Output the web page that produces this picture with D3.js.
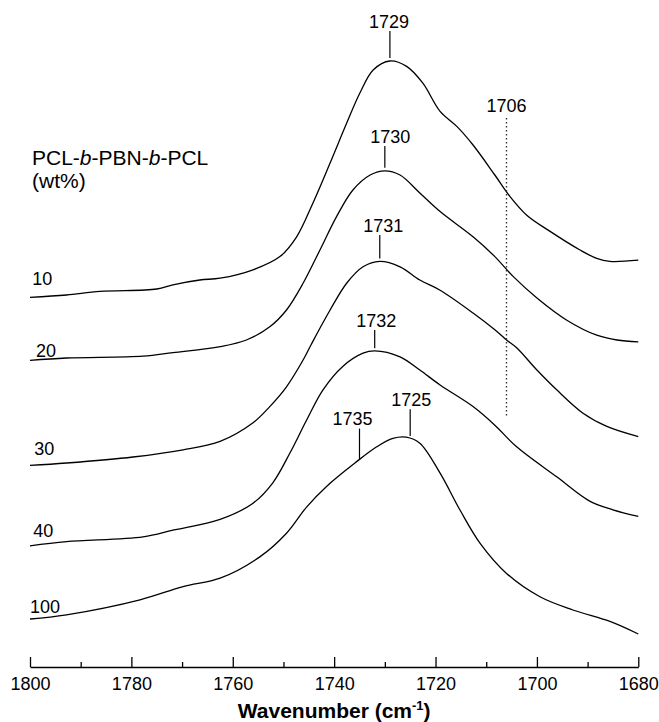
<!DOCTYPE html>
<html><head><meta charset="utf-8">
<script src="https://cdn.jsdelivr.net/npm/d3@7"></script>
<style>
html,body{margin:0;padding:0;background:#fff;}
svg{display:block;font-family:"Liberation Sans",Arial,Helvetica,sans-serif;}
</style></head><body>
<svg id="chart" width="659" height="722"></svg>
<script>
// Carbonyl stretching region of the FTIR spectra, stacked by blend composition (wt%)
const compositions = ["10", "20", "30", "40", "100"];

// [wavenumber (cm-1), absorbance incl. stacking offset (a.u.)]
const s10 = [[1800,6.16],[1792.8,6.20],[1786.2,6.26],[1775,6.30],[1771.8,6.37],[1766.5,6.45],[1762.5,6.48],
  [1756,6.62],[1750.7,6.84],[1747.4,7.17],[1744.2,7.73],[1740.8,8.40],[1737.5,9.07],[1734.9,9.57],
  [1732.3,9.95],[1729,10.10],[1725.7,10.01],[1722.5,9.73],[1719.1,9.26],[1715.8,9.01],[1712.6,8.70],
  [1708.3,8.20],[1705.3,7.84],[1702,7.53],[1697.4,7.26],[1691.5,6.95],[1688.2,6.81],[1685.6,6.76],[1680,6.78]];
const s20 = [[1800,5.11],[1792.8,5.15],[1777.7,5.18],[1771.8,5.24],[1762.5,5.34],[1757.3,5.45],[1752.7,5.67],
  [1749.4,5.95],[1746.1,6.40],[1742.8,6.95],[1739.5,7.51],[1736.3,7.95],[1732.9,8.20],[1730,8.27],
  [1727,8.20],[1723.1,7.90],[1719.1,7.59],[1712.6,7.17],[1708.3,6.84],[1704.7,6.51],[1700,6.15],
  [1694.1,5.78],[1688.2,5.53],[1684.2,5.45],[1680,5.42]];
const s30 = [[1800,3.36],[1792.8,3.40],[1779.7,3.50],[1769.8,3.62],[1762.5,3.76],[1756,4.07],[1752.7,4.34],
  [1749.4,4.67],[1746.1,5.12],[1744.5,5.38],[1740.8,5.95],[1737.5,6.40],[1734.3,6.67],[1731,6.76],
  [1727,6.67],[1723.1,6.45],[1719.1,6.28],[1712.6,5.90],[1708.3,5.62],[1706,5.45],[1704,5.32],
  [1700,4.95],[1696.1,4.62],[1690.9,4.23],[1686.2,4.01],[1680,3.84]];
const s40 = [[1800,2.02],[1792.8,2.09],[1777.7,2.17],[1771.8,2.28],[1762.5,2.46],[1756,2.73],[1752.1,3.07],
  [1748.7,3.57],[1745.4,4.12],[1742.2,4.62],[1738.3,5.01],[1734.3,5.23],[1732,5.27],[1727,5.17],
  [1723.1,4.95],[1719.1,4.70],[1712.6,4.34],[1708.3,4.03],[1704,3.67],[1696.1,3.17],[1689.5,2.76],
  [1685,2.62],[1680,2.51]];
const s100 = [[1800,0.80],[1792.8,0.87],[1778.3,1.12],[1769.8,1.34],[1762.5,1.48],[1754.6,1.84],[1749.4,2.23],
  [1745.4,2.67],[1741.5,3.01],[1735.9,3.40],[1731.6,3.67],[1728.4,3.81],[1725.8,3.83],[1723.1,3.73],
  [1719.1,3.23],[1715.2,2.62],[1711.2,2.06],[1706,1.56],[1699.4,1.17],[1692.9,0.95],[1685.6,0.76],[1680,0.55]];
const spectra = [s10, s20, s30, s40, s100];

const majorTicks = [1800, 1780, 1760, 1740, 1720, 1700, 1680];
const minorTicks = [1790, 1770, 1750, 1730, 1710, 1690];

// Band positions marked on the spectra
const peakWn = [1729, 1730, 1731, 1732, 1725, 1735];
const peakSeries = [0, 1, 2, 3, 4, 4];
const refWn = 1706;

// Layout of the marker stems and labels (px)
const stemGap = [3, 3, 3, 2.5, 3, 0];
const stemLen = [27, 21.7, 23.3, 18.3, 26.7, 31];
const peakLabelDx = [-1, 5.5, 3.5, 1.6, 1, -7];
const seriesLabelDx = [2.3, 6, 4.3, 3.3, 0];
const seriesLabelLift = [12.7, 3.4, 10.7, 9, 6];

const svg = d3.select("#chart");
const x = d3.scaleLinear().domain([1800, 1680]).range([30, 638.3]);
const y = d3.scaleLinear().domain([0, 10]).range([667, 67]);

function valueAt(series, wn) {
  for (let i = 0; i < series.length - 1; i++) {
    const [w0, a0] = series[i], [w1, a1] = series[i + 1];
    if (wn <= w0 && wn >= w1) {
      const t = (w0 - wn) / (w0 - w1);
      return a0 + t * (a1 - a0);
    }
  }
  return series[series.length - 1][1];
}

// spectra
const line = d3.line().x(d => x(d[0])).y(d => y(d[1])).curve(d3.curveCatmullRom.alpha(0.5));
svg.append("g").selectAll("path").data(spectra).join("path")
  .attr("d", line).attr("fill", "none").attr("stroke", "#000").attr("stroke-width", 1.3);

// composition labels at the left end of each trace
svg.append("g").selectAll("text").data(compositions).join("text")
  .attr("x", (d, i) => x(1800) + seriesLabelDx[i])
  .attr("y", (d, i) => y(spectra[i][0][1]) - seriesLabelLift[i])
  .attr("font-size", 18).attr("fill", "#000").text(d => d);

// legend heading
const head = svg.append("text").attr("x", 32).attr("y", 164.5).attr("font-size", 21).attr("fill", "#000");
head.append("tspan").text("PCL-");
head.append("tspan").attr("font-style", "italic").text("b");
head.append("tspan").text("-PBN-");
head.append("tspan").attr("font-style", "italic").text("b");
head.append("tspan").text("-PCL");
svg.append("text").attr("x", 32).attr("y", 187.5).attr("font-size", 21).attr("fill", "#000").text("(wt%)");

// peak markers
const marks = svg.append("g");
peakWn.forEach((wn, i) => {
  const px = x(wn);
  const bottom = y(valueAt(spectra[peakSeries[i]], wn)) - stemGap[i];
  const top = bottom - stemLen[i];
  marks.append("line").attr("x1", px).attr("x2", px).attr("y1", top).attr("y2", bottom)
    .attr("stroke", "#000").attr("stroke-width", 1.2);
  marks.append("text").attr("x", px + peakLabelDx[i]).attr("y", top - 3.5)
    .attr("text-anchor", "middle").attr("font-size", 18).attr("fill", "#000").text(wn);
});

// reference band guide
svg.append("line").attr("x1", x(refWn)).attr("x2", x(refWn)).attr("y1", y(9.15)).attr("y2", y(4.15))
  .attr("stroke", "#333").attr("stroke-width", 1.4).attr("stroke-dasharray", "1.4,2.6");
svg.append("text").attr("x", x(refWn)).attr("y", 111.7).attr("text-anchor", "middle")
  .attr("font-size", 18).attr("fill", "#000").text(refWn);

// x axis
const gx = svg.append("g").attr("transform", `translate(0,${y(0)})`);
gx.call(d3.axisBottom(x).tickValues(majorTicks).tickSizeInner(-10).tickSizeOuter(0).tickPadding(10).tickFormat(d3.format("d")));
gx.select(".domain").attr("stroke", "#000").attr("stroke-width", 1.3);
gx.selectAll(".tick line").attr("stroke", "#000").attr("stroke-width", 1.3);
gx.selectAll(".tick text").attr("font-size", 18).attr("fill", "#000")
  .attr("font-family", "'Liberation Sans',Arial,sans-serif");
const gm = svg.append("g").attr("transform", `translate(0,${y(0)})`);
gm.call(d3.axisBottom(x).tickValues(minorTicks).tickSizeInner(-5).tickSizeOuter(0).tickFormat(""));
gm.select(".domain").remove();
gm.selectAll(".tick line").attr("stroke", "#000").attr("stroke-width", 1.3);

// axis title
const title = svg.append("text").attr("x", (x(1800) + x(1680)) / 2).attr("y", 717.5)
  .attr("text-anchor", "middle").attr("font-size", 21).attr("font-weight", "bold").attr("fill", "#000");
title.append("tspan").text("Wavenumber (cm");
title.append("tspan").attr("dy", -8).attr("font-size", 13).text("-1");
title.append("tspan").attr("dy", 8).text(")");
</script>
</body></html>
